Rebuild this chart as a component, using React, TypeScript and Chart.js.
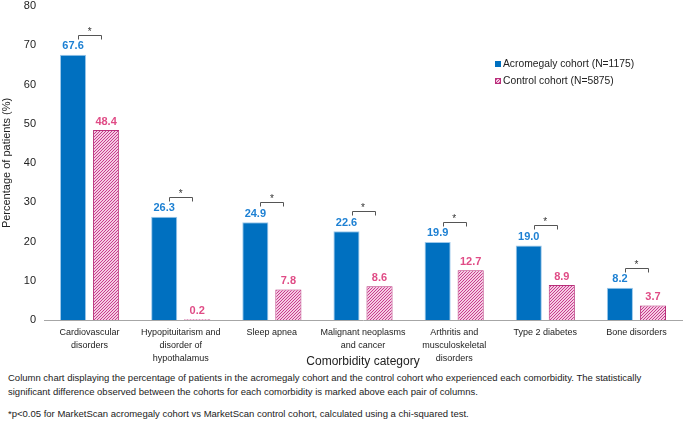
import React, { useEffect, useRef } from "react";
import { Chart, registerables } from "chart.js";

Chart.register(...registerables);

const categories: string[][] = [
  ["Cardiovascular", "disorders"],
  ["Hypopituitarism and", "disorder of", "hypothalamus"],
  ["Sleep apnea"],
  ["Malignant neoplasms", "and cancer"],
  ["Arthritis and", "musculoskeletal", "disorders"],
  ["Type 2 diabetes"],
  ["Bone disorders"],
];
const acromegalyValues = [67.6, 26.3, 24.9, 22.6, 19.9, 19.0, 8.2];
const controlValues = [48.4, 0.2, 7.8, 8.6, 12.7, 8.9, 3.7];
const significant = [true, true, true, true, true, true, true];
const seriesNames = ["Acromegaly cohort (N=1175)", "Control cohort (N=5875)"];
const yTicks = [0, 10, 20, 30, 40, 50, 60, 70, 80];

const BLUE = "#0070C0";
const BLUE_TEXT = "#1D80D3";
const PINK_BORDER = "#B8307A";
const PINK_TEXT = "#E04C86";
const FONT = "'Liberation Sans', Arial, sans-serif";

function makeHatch(): CanvasPattern | string {
  const c = document.createElement("canvas");
  c.width = 3;
  c.height = 3;
  const g = c.getContext("2d");
  if (!g) return "#D65AA0";
  g.fillStyle = "#F4CCE2";
  g.fillRect(0, 0, 3, 3);
  g.fillStyle = "#C93A8E";
  g.fillRect(0, 2, 1, 1);
  g.fillRect(1, 1, 1, 1);
  g.fillRect(2, 0, 1, 1);
  const p = g.createPattern(c, "repeat");
  return p || "#D65AA0";
}

export default function App() {
  const ref = useRef<HTMLCanvasElement | null>(null);

  useEffect(() => {
    if (!ref.current) return;
    const hatch = makeHatch();

    const labelsPlugin = {
      id: "valueLabels",
      afterDatasetsDraw(chart: any) {
        const ctx = chart.ctx;
        ctx.save();
        ctx.font = `bold 11px ${FONT}`;
        ctx.textAlign = "center";
        ctx.textBaseline = "bottom";
        chart.data.datasets.forEach((ds: any, di: number) => {
          const meta = chart.getDatasetMeta(di);
          ctx.fillStyle = di === 0 ? BLUE_TEXT : PINK_TEXT;
          meta.data.forEach((bar: any, i: number) => {
            ctx.fillText(Number(ds.data[i]).toFixed(1), bar.x, bar.y - 3);
          });
        });
        // significance brackets
        const m0 = chart.getDatasetMeta(0);
        const m1 = chart.getDatasetMeta(1);
        ctx.strokeStyle = "#555";
        ctx.lineWidth = 1;
        ctx.fillStyle = "#333";
        ctx.font = `10px ${FONT}`;
        significant.forEach((s, i) => {
          if (!s) return;
          const b0 = m0.data[i];
          const b1 = m1.data[i];
          const cx = (b0.x + b1.x) / 2;
          const top = Math.min(b0.y, b1.y) - 20;
          const y = Math.round(top) + 0.5;
          const l = Math.round(cx - 11.5) + 0.5;
          const r = Math.round(cx + 11.5) + 0.5;
          ctx.beginPath();
          ctx.moveTo(l, y + 4);
          ctx.lineTo(l, y);
          ctx.lineTo(r, y);
          ctx.lineTo(r, y + 4);
          ctx.stroke();
          ctx.textBaseline = "middle";
          ctx.fillText("*", cx, y - 3);
        });
        // legend
        const lx = chart.chartArea.left + 451;
        const ly = chart.chartArea.top + 58;
        ctx.font = `10.3px ${FONT}`;
        ctx.textAlign = "left";
        ctx.textBaseline = "middle";
        ctx.fillStyle = BLUE;
        ctx.fillRect(lx, ly - 3, 6, 6);
        ctx.fillStyle = "#222";
        ctx.fillText(seriesNames[0], lx + 8, ly);
        ctx.fillStyle = hatch as any;
        ctx.fillRect(lx, ly + 14, 6, 6);
        ctx.strokeStyle = PINK_BORDER;
        ctx.strokeRect(lx + 0.5, ly + 14.5, 5, 5);
        ctx.fillStyle = "#222";
        ctx.fillText(seriesNames[1], lx + 8, ly + 17);
        ctx.restore();
      },
    };

    const chart = new Chart(ref.current, {
      type: "bar",
      data: {
        labels: categories,
        datasets: [
          {
            label: seriesNames[0],
            data: acromegalyValues,
            backgroundColor: BLUE,
            borderColor: "#9CC8EA",
            borderWidth: 1,
            categoryPercentage: 0.725,
            barPercentage: 0.79,
          },
          {
            label: seriesNames[1],
            data: controlValues,
            backgroundColor: hatch as any,
            borderColor: PINK_BORDER,
            borderWidth: 1,
            categoryPercentage: 0.725,
            barPercentage: 0.79,
          },
        ],
      },
      plugins: [labelsPlugin],
      options: {
        animation: false,
        responsive: false,
        devicePixelRatio: 1,
        layout: { padding: { top: 6, right: 3, left: 0, bottom: 0 } },
        plugins: {
          legend: { display: false },
          tooltip: { enabled: false },
        },
        scales: {
          x: {
            grid: { display: false, drawTicks: false },
            border: { display: true, color: "#A6A6A6", width: 1 },
            ticks: {
              color: "#222",
              font: { family: FONT, size: 9, lineHeight: 1.45 },
              padding: 6,
              maxRotation: 0,
              autoSkip: false,
            },
            title: {
              display: true,
              text: "Comorbidity category",
              color: "#222",
              font: { family: FONT, size: 12 },
              padding: { top: 4, bottom: 1 },
            },
            afterFit(scale: any) {
              scale.height = 50;
              scale.paddingLeft = 0;
              scale.paddingRight = 0;
            },
          },
          y: {
            min: 0,
            max: 80,
            afterBuildTicks(scale: any) {
              scale.ticks = yTicks.map((v) => ({ value: v }));
            },
            grid: { display: false, drawTicks: false },
            border: { display: false },
            ticks: {
              color: "#222",
              font: { family: FONT, size: 11 },
              padding: 8,
            },
            title: {
              display: true,
              text: "Percentage of patients (%)",
              color: "#222",
              font: { family: FONT, size: 11 },
              padding: { top: 0, bottom: 4 },
            },
            afterFit(scale: any) {
              scale.width = 44;
              scale.paddingTop = 0;
              scale.paddingBottom = 0;
            },
          },
        },
      },
    });
    return () => chart.destroy();
  }, []);

  return (
    <div
      style={{
        position: "fixed",
        left: 0,
        top: 0,
        width: 685,
        height: 427,
        background: "#fff",
        fontFamily: FONT,
        overflow: "hidden",
      }}
    >
      <canvas ref={ref} width={685} height={370} style={{ display: "block" }} />
      <div
        style={{
          position: "absolute",
          left: 8,
          top: 371,
          width: 677,
          fontSize: 9.5,
          lineHeight: "13.5px",
          color: "#222",
          whiteSpace: "nowrap",
        }}
      >
        <div>
          Column chart displaying the percentage of patients in the acromegaly cohort and the control cohort who
          experienced each comorbidity. The statistically
          <br />
          significant difference observed between the cohorts for each comorbidity is marked above each pair of columns.
        </div>
        <div style={{ marginTop: 9 }}>
          *p&lt;0.05 for MarketScan acromegaly cohort vs MarketScan control cohort, calculated using a chi-squared test.
        </div>
      </div>
    </div>
  );
}
